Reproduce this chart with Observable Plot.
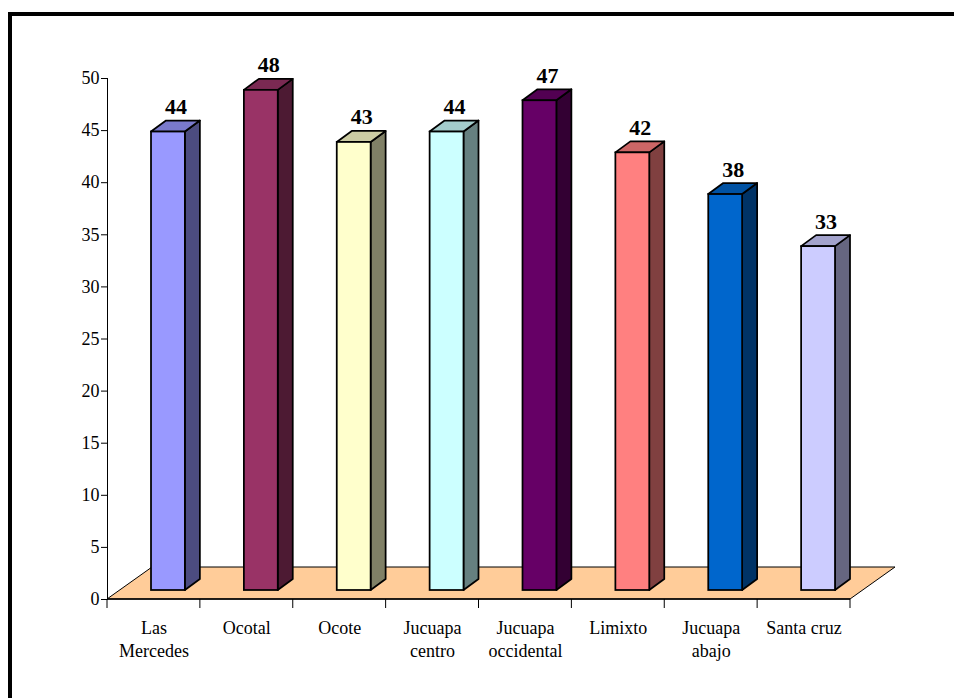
<!DOCTYPE html>
<html>
<head>
<meta charset="utf-8">
<script src="https://cdn.jsdelivr.net/npm/d3@7"></script>
<script src="https://cdn.jsdelivr.net/npm/@observablehq/plot@0.6"></script>
<style>
  html, body { margin: 0; padding: 0; background: #fff; overflow: hidden; }
  #wrap { position: relative; width: 954px; height: 698px; }
  #frame { position: absolute; left: 8px; top: 12px; width: 960px; height: 700px;
           border-left: 4px solid #000; border-top: 4px solid #000; pointer-events: none; }
  #chart { position: absolute; left: 0; top: 0; }
</style>
</head>
<body>
<div id="wrap"><div id="chart"></div><div id="frame"></div></div>
<script>
// Villages, their counts, and the two-line tick labels shown under each bar
const villages = ["Las Mercedes", "Ocotal", "Ocote", "Jucuapa centro", "Jucuapa occidental", "Limixto", "Jucuapa abajo", "Santa cruz"];
const tickLines = [["Las", "Mercedes"], ["Ocotal"], ["Ocote"], ["Jucuapa", "centro"], ["Jucuapa", "occidental"], ["Limixto"], ["Jucuapa", "abajo"], ["Santa cruz"]];
const counts = [44, 48, 43, 44, 47, 42, 38, 33];
const yTicks = [0, 5, 10, 15, 20, 25, 30, 35, 40, 45, 50];

// Face shades for each 3D column: front, right side, top
const frontColors = ["#9999FF", "#993366", "#FFFFCC", "#CCFFFF", "#660066", "#FF8080", "#0066CC", "#CCCCFF"];
const sideColors  = ["#4C4C80", "#4D1A33", "#808066", "#668080", "#330033", "#804040", "#003366", "#666680"];
const topColors   = ["#7A7ACC", "#7A2952", "#CCCCA3", "#A3CCCC", "#520052", "#CC6666", "#0052A3", "#A3A3CC"];
const floorColor = "#FFCC99";

const data = villages.map((v, i) => ({
  village: v, count: counts[i], label: tickLines[i].join("\n"),
  front: frontColors[i], side: sideColors[i], top: topColors[i]
}));

// Oblique projection offsets (pixels) for the floor depth and the columns
const floorDepth = [45, -32];
const colFront = [14, -9];     // columns stand slightly behind the front edge
const colDepth = [15, -11];    // depth of each column
const insetL = 30, insetR = 29;

// Floor, axis ticks under the floor, and the side/top faces of each column
function depthFaces(index, scales) {
  const {x, y} = scales;
  const bw = x.bandwidth();
  const y0 = y(0);
  const xL = x(villages[0]);
  const xR = x(villages[villages.length - 1]) + bw;
  const g = d3.create("svg:g");
  const pts = p => p.map(q => q.join(",")).join(" ");

  g.append("polygon")
    .attr("points", pts([[xL, y0], [xR, y0], [xR + floorDepth[0], y0 + floorDepth[1]], [xL + floorDepth[0], y0 + floorDepth[1]]]))
    .attr("fill", floorColor).attr("stroke", "#000").attr("stroke-width", 1);

  const edges = villages.map(v => x(v)).concat([xR]);
  g.append("g").attr("stroke", "#000").attr("stroke-width", 1)
    .selectAll("line").data(edges).join("line")
    .attr("x1", d => d).attr("x2", d => d).attr("y1", y0).attr("y2", y0 + 9);
  g.append("line").attr("x1", xL).attr("x2", xR).attr("y1", y0).attr("y2", y0)
    .attr("stroke", "#000").attr("stroke-width", 1.5);

  for (const d of data) {
    const left = x(d.village) + insetL + colFront[0];
    const right = x(d.village) + bw - insetR + colFront[0];
    const top = y(d.count) + colFront[1];
    const bottom = y0 + colFront[1];
    const [ddx, ddy] = colDepth;
    g.append("polygon")
      .attr("points", pts([[right, top], [right + ddx, top + ddy], [right + ddx, bottom + ddy], [right, bottom]]))
      .attr("fill", d.side).attr("stroke", "#000").attr("stroke-width", 1.75).attr("stroke-linejoin", "round");
    g.append("polygon")
      .attr("points", pts([[left, top], [left + ddx, top + ddy], [right + ddx, top + ddy], [right, top]]))
      .attr("fill", d.top).attr("stroke", "#000").attr("stroke-width", 1.75).attr("stroke-linejoin", "round");
  }
  return g.node();
}

const chart = Plot.plot({
  width: 954,
  height: 698,
  marginLeft: 107,
  marginRight: 104,
  marginTop: 78,
  marginBottom: 99,
  style: {fontFamily: "'Liberation Serif', 'Times New Roman', serif", fontSize: "18px", color: "#000", background: "transparent"},
  x: {type: "band", domain: villages, padding: 0, round: false, axis: null},
  y: {domain: [0, 50], ticks: yTicks, tickSize: 6, tickPadding: 2, line: true, label: null},
  color: {type: "identity"},
  marks: [
    depthFaces,
    Plot.barY(data, {
      x: "village", y: "count", fill: "front",
      insetLeft: insetL, insetRight: insetR, dx: colFront[0], dy: colFront[1],
      stroke: "#000", strokeWidth: 1.75
    }),
    Plot.text(data, {
      x: "village", y: "count", text: d => String(d.count),
      dx: 22, dy: -27, lineAnchor: "bottom",
      fontWeight: "bold", fontSize: 22, fill: "#000"
    }),
    Plot.text(data, {
      x: "village", y: () => 0, text: "label",
      dy: 18, lineAnchor: "top", lineHeight: 1.28, fontSize: 18, fill: "#000"
    })
  ]
});

document.getElementById("chart").appendChild(chart);
</script>
</body>
</html>
